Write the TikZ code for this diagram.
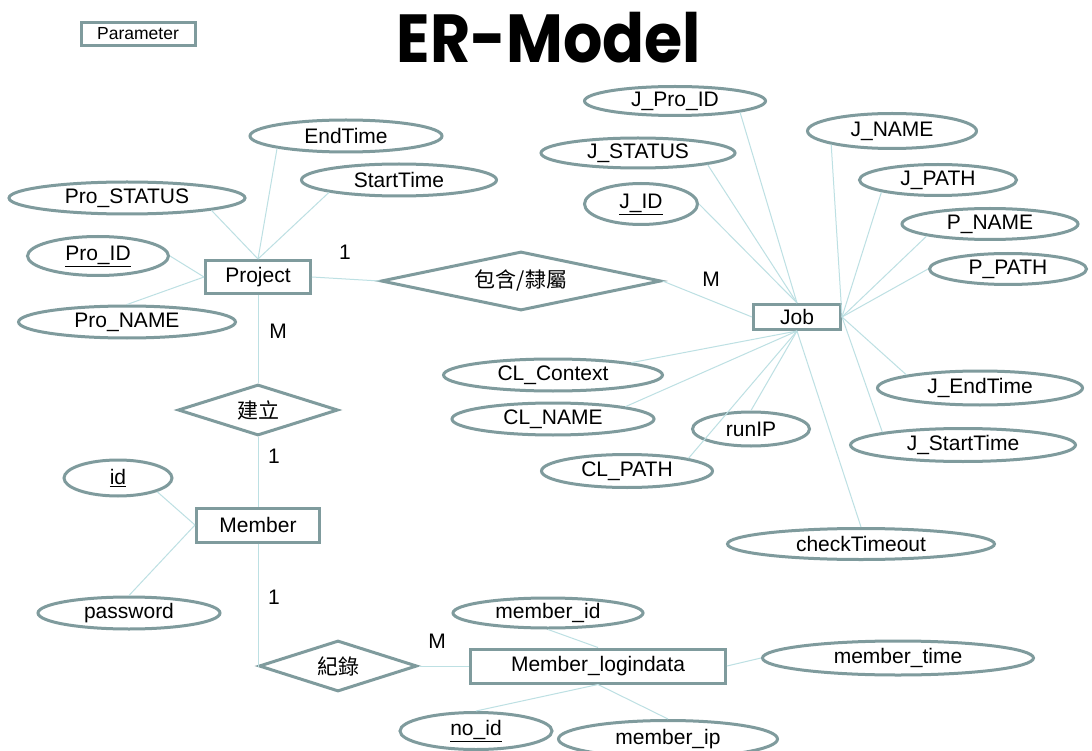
\documentclass[tikz,border=0pt]{standalone}
\usepackage{fontspec}
\setmainfont{Liberation Sans}
\newfontfamily\cjkfont{Noto Sans CJK TC}
\newfontfamily\titlefont{Poppins}
\usetikzlibrary{shapes.geometric}
\definecolor{bordergray}{RGB}{127,155,157}
\definecolor{linkcyan}{RGB}{189,224,227}
\begin{document}
\begin{tikzpicture}[x=1pt,y=-1pt,
  entity/.style={rectangle,draw=bordergray,line width=3pt,fill=white,inner sep=0pt,font=\fontsize{21}{24}\selectfont},
  attr/.style={ellipse,draw=bordergray,line width=3pt,fill=white,inner sep=0pt,font=\fontsize{21}{24}\selectfont},
  rel/.style={diamond,draw=bordergray,line width=3pt,fill=white,inner sep=0pt,shape aspect=4,font=\cjkfont\fontsize{21}{24}\selectfont},
  link/.style={draw=linkcyan,line width=1pt},
  card/.style={font=\fontsize{21}{24}\selectfont}]
\useasboundingbox[fill=white] (0,0) rectangle (1092,751);
\node[entity,minimum width=114pt,minimum height=23pt,font=\fontsize{17.5}{20}\selectfont] (param) at (138,34) {Parameter};
\node[font=\titlefont\bfseries\fontsize{68}{78}\selectfont] (title) at (549,38) {\scalebox{0.91}[1]{ER-Model}};
\node[entity,minimum width=105pt,minimum height=33pt] (project) at (258,277) {Project};
\node[entity,minimum width=87pt,minimum height=25pt] (job) at (797,317) {Job};
\node[entity,minimum width=123pt,minimum height=34pt] (member) at (258,525) {Member};
\node[entity,minimum width=255pt,minimum height=34pt] (login) at (598,666) {Member\_logindata};
\node[rel,minimum width=280pt,minimum height=59pt] (contain) at (521,281) {包含/隸屬};
\node[rel,minimum width=160pt,minimum height=51pt] (create) at (258,410) {建立};
\node[rel,minimum width=158pt,minimum height=51pt] (record) at (338,666) {紀錄};
\node[attr,minimum width=192pt,minimum height=32pt] (endtime) at (346,136) {EndTime};
\node[attr,minimum width=195pt,minimum height=32pt] (starttime) at (399,180) {StartTime};
\node[attr,minimum width=236pt,minimum height=32pt] (prostatus) at (127,198) {Pro\_STATUS};
\node[attr,minimum width=141pt,minimum height=39pt] (proid) at (98,256) {\underline{Pro\_ID}};
\node[attr,minimum width=217pt,minimum height=32pt] (proname) at (127,322) {Pro\_NAME};
\node[attr,minimum width=181pt,minimum height=29pt] (jproid) at (675,101) {J\_Pro\_ID};
\node[attr,minimum width=194pt,minimum height=30pt] (jstatus) at (638,153) {J\_STATUS};
\node[attr,minimum width=113pt,minimum height=41pt] (jid) at (641,204) {\underline{J\_ID}};
\node[attr,minimum width=169pt,minimum height=35pt] (jname) at (892,131) {J\_NAME};
\node[attr,minimum width=157pt,minimum height=31pt] (jpath) at (938,180) {J\_PATH};
\node[attr,minimum width=176pt,minimum height=31pt] (pname) at (990,224) {P\_NAME};
\node[attr,minimum width=157pt,minimum height=31pt] (ppath) at (1008,269) {P\_PATH};
\node[attr,minimum width=219pt,minimum height=32pt] (clcontext) at (553,375) {CL\_Context};
\node[attr,minimum width=202pt,minimum height=32pt] (clname) at (553,419) {CL\_NAME};
\node[attr,minimum width=117pt,minimum height=34pt] (runip) at (751,429) {runIP};
\node[attr,minimum width=171pt,minimum height=33pt] (clpath) at (627,471) {CL\_PATH};
\node[attr,minimum width=205pt,minimum height=34pt] (jendtime) at (980,388) {J\_EndTime};
\node[attr,minimum width=225pt,minimum height=33pt] (jstarttime) at (963,445) {J\_StartTime};
\node[attr,minimum width=267pt,minimum height=31pt] (checktimeout) at (861,544) {checkTimeout};
\node[attr,minimum width=108pt,minimum height=36pt] (id) at (118,478) {\underline{id}};
\node[attr,minimum width=182pt,minimum height=32pt] (password) at (129,613) {password};
\node[attr,minimum width=190pt,minimum height=30pt] (memberid) at (548,613) {member\_id};
\node[attr,minimum width=271pt,minimum height=34pt] (membertime) at (898,658) {member\_time};
\node[attr,minimum width=152pt,minimum height=37pt] (noid) at (476,731) {\underline{no\_id}};
\node[attr,minimum width=219pt,minimum height=37pt] (memberip) at (668,739) {member\_ip};
\node[card] (projone) at (345,252) {1};
\node[card] (projmany) at (278,331) {M};
\node[card] (jobmany) at (711,279) {M};
\node[card] (memone) at (274,456) {1};
\node[card] (logone) at (274,597) {1};
\node[card] (logmany) at (437,641) {M};
\draw[link] (endtime.south west) -- (project.north);
\draw[link] (starttime.south west) -- (project.north);
\draw[link] (prostatus.south east) -- (project.north);
\draw[link] (proid.east) -- (project.west);
\draw[link] (proname.north) -- (project.west);
\draw[link] (project.east) -- (contain.west);
\draw[link] (contain.east) -- (job.west);
\draw[link] (project.south) -- (create.north);
\draw[link] (create.south) -- (member.north);
\draw[link] (member.south) |- (record.west);
\draw[link] (record.east) -- (login.west);
\draw[link] (id.south east) -- (member.west);
\draw[link] (password.north) -- (member.west);
\draw[link] (jproid.south east) -- (job.north);
\draw[link] (jstatus.south east) -- (job.north);
\draw[link] (jid.east) -- (job.north);
\draw[link] (jname.south west) -- (job.east);
\draw[link] (jpath.south west) -- (job.east);
\draw[link] (pname.south west) -- (job.east);
\draw[link] (ppath.west) -- (job.east);
\draw[link] (jendtime.north west) -- (job.east);
\draw[link] (jstarttime.north west) -- (job.east);
\draw[link] (clcontext.north east) -- (job.south);
\draw[link] (clname.north east) -- (job.south);
\draw[link] (clpath.north east) -- (job.south);
\draw[link] (runip.north) -- (job.south);
\draw[link] (checktimeout.north) -- (job.south);
\draw[link] (memberid.south) -- (login.north);
\draw[link] (membertime.west) -- (login.east);
\draw[link] (login.south) -- (noid.north);
\draw[link] (login.south) -- (memberip.north);
\end{tikzpicture}
\end{document}
